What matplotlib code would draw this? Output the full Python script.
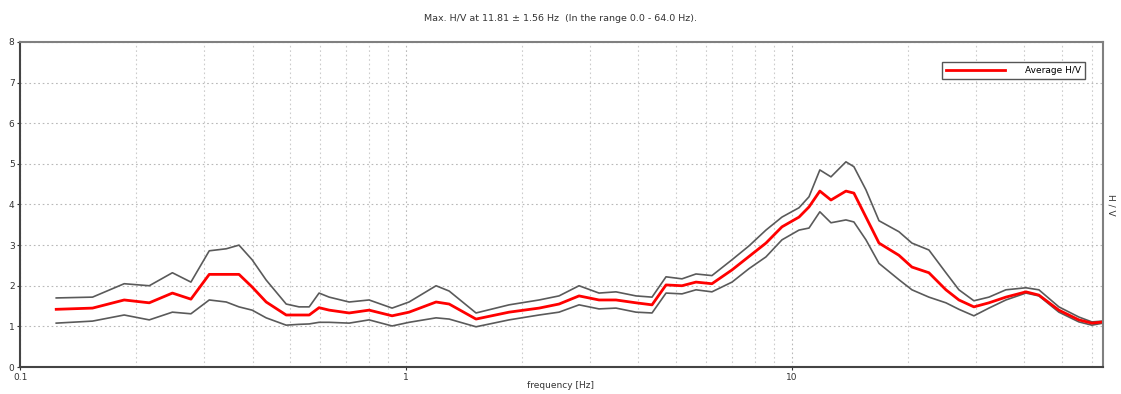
import matplotlib
matplotlib.use("Agg")
import matplotlib.pyplot as plt
from matplotlib.ticker import LogLocator, NullFormatter, FixedLocator, FixedFormatter

# H/V spectral ratio: average curve and its +/- standard deviation bounds
freq = [0.124, 0.154, 0.186, 0.216, 0.248, 0.277, 0.309, 0.342, 0.369, 0.399,
        0.434, 0.489, 0.528, 0.561, 0.595, 0.632, 0.712, 0.802, 0.920, 1.018,
        1.196, 1.293, 1.518, 1.849, 2.212, 2.491, 2.807, 3.162, 3.499, 3.943,
        4.339, 4.717, 5.188, 5.640, 6.203, 6.993, 7.737, 8.562, 9.421, 10.43,
        11.07, 11.81, 12.62, 13.80, 14.47, 15.55, 16.81, 18.93, 20.46, 22.64,
        25.06, 27.08, 29.61, 32.39, 35.84, 40.39, 43.64, 49.17, 55.40, 59.87,
        64.0]

hv_avg = [1.42, 1.45, 1.65, 1.58, 1.82, 1.67, 2.28, 2.28, 2.28, 1.97,
          1.60, 1.28, 1.28, 1.28, 1.46, 1.40, 1.33, 1.40, 1.26, 1.35,
          1.60, 1.55, 1.18, 1.35, 1.45, 1.55, 1.75, 1.65, 1.65, 1.58,
          1.53, 2.02, 2.00, 2.09, 2.05, 2.39, 2.72, 3.05, 3.45, 3.69,
          3.94, 4.33, 4.11, 4.33, 4.28, 3.69, 3.05, 2.75, 2.46, 2.32,
          1.90, 1.65, 1.48, 1.58, 1.72, 1.85, 1.77, 1.40, 1.16, 1.08,
          1.11]

hv_upper = [1.70, 1.72, 2.05, 2.00, 2.32, 2.09, 2.86, 2.91, 3.00, 2.64,
            2.14, 1.55, 1.48, 1.48, 1.82, 1.72, 1.60, 1.65, 1.45, 1.60,
            2.00, 1.87, 1.33, 1.53, 1.65, 1.75, 2.00, 1.82, 1.85, 1.75,
            1.72, 2.22, 2.17, 2.29, 2.25, 2.64, 2.98, 3.37, 3.69, 3.92,
            4.19, 4.85, 4.68, 5.05, 4.93, 4.36, 3.60, 3.33, 3.05, 2.88,
            2.32, 1.90, 1.63, 1.72, 1.90, 1.95, 1.90, 1.48, 1.23, 1.11,
            1.13]

hv_lower = [1.08, 1.13, 1.28, 1.16, 1.35, 1.31, 1.65, 1.60, 1.48, 1.40,
            1.21, 1.03, 1.05, 1.06, 1.10, 1.10, 1.08, 1.16, 1.01, 1.10,
            1.21, 1.18, 0.99, 1.16, 1.28, 1.35, 1.53, 1.43, 1.45, 1.35,
            1.33, 1.82, 1.80, 1.90, 1.85, 2.09, 2.42, 2.71, 3.13, 3.37,
            3.42, 3.82, 3.55, 3.62, 3.57, 3.13, 2.55, 2.15, 1.90, 1.72,
            1.58, 1.42, 1.26, 1.45, 1.65, 1.82, 1.75, 1.35, 1.11, 1.03,
            1.08]

x_ticks = [0.1, 1, 10]
x_ticklabels = ["0.1", "1", "10"]
y_ticks = [0, 1, 2, 3, 4, 5, 6, 7, 8]

fig = plt.figure(figsize=(11.21, 3.94), dpi=100)
ax = fig.add_axes([0.018, 0.0685, 0.966, 0.825])

ax.plot(freq, hv_upper, color="#5a5a5a", lw=1.2)
ax.plot(freq, hv_lower, color="#5a5a5a", lw=1.2)
ax.plot(freq, hv_avg, color="#ff0000", lw=2.0, label="Average H/V")

ax.set_xscale("log")
ax.set_xlim(0.1, 64.0)
ax.set_ylim(0, 8)

ax.xaxis.set_major_locator(FixedLocator(x_ticks))
ax.xaxis.set_major_formatter(FixedFormatter(x_ticklabels))
ax.xaxis.set_minor_locator(LogLocator(base=10, subs=range(2, 10)))
ax.xaxis.set_minor_formatter(NullFormatter())
ax.set_yticks(y_ticks)

ax.grid(True, which="major", axis="both", color="#b8b8b8", ls=(0, (1.5, 2.5)), lw=0.8)
ax.grid(True, which="minor", axis="x", color="#cccccc", ls=(0, (1.5, 2.5)), lw=0.8)

ax.tick_params(axis="both", which="major", labelsize=6.5, length=2, pad=2,
               colors="#333333")
ax.tick_params(axis="x", which="minor", length=0)

ax.spines["left"].set_color("#444444")
ax.spines["bottom"].set_color("#444444")
ax.spines["top"].set_color("#808080")
ax.spines["right"].set_color("#808080")
for s in ax.spines.values():
    s.set_linewidth(1.5)

leg = ax.legend(loc="upper right", bbox_to_anchor=(0.983, 0.938), fontsize=6.5,
                handlelength=6.5, fancybox=False, framealpha=1,
                borderpad=0.45, handletextpad=2.2, borderaxespad=0)
leg.get_frame().set_edgecolor("#555555")
leg.get_frame().set_linewidth(1.0)

fig.text(0.5, 0.952, "Max. H/V at 11.81 \u00b1 1.56 Hz  (In the range 0.0 - 64.0 Hz).",
         ha="center", va="center", fontsize=6.8, color="#333333")
fig.text(0.5, 0.022, "frequency [Hz]", ha="center", va="center",
         fontsize=6.5, color="#333333")
fig.text(0.991, 0.48, "H / V", rotation=270, ha="center", va="center",
         fontsize=6.5, color="#333333")

fig.savefig("out.png", dpi=100)
